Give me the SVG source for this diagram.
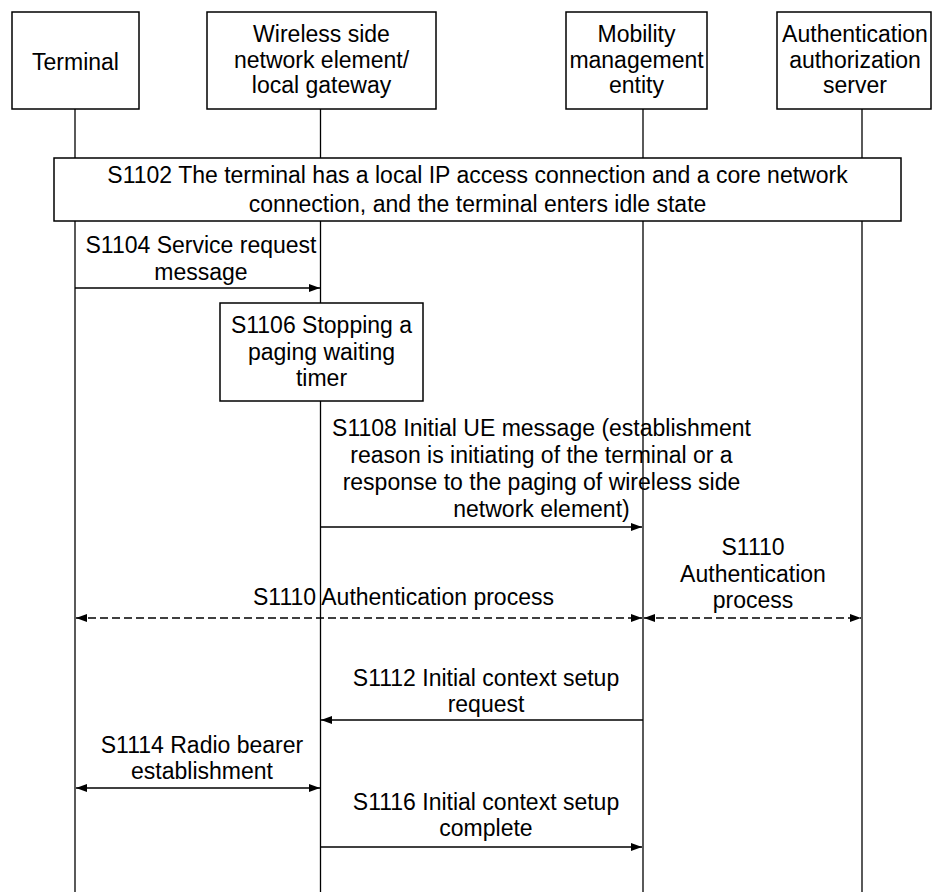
<svg xmlns="http://www.w3.org/2000/svg" width="932" height="892" viewBox="0 0 932 892">
<style>
.box{fill:#fff;stroke:#000;stroke-width:1.5}
.life{stroke:#000;stroke-width:1.3;fill:none}
.msg{stroke:#000;stroke-width:1.3;fill:none}
.dash{stroke-dasharray:8 4}
text{font-family:"Liberation Sans",Arial,sans-serif;font-size:23px;fill:#000;text-anchor:middle}
</style>
<defs>
<marker id="ah" viewBox="0 0 11 8" refX="11" refY="4" markerWidth="11" markerHeight="8" markerUnits="userSpaceOnUse" orient="auto-start-reverse">
<path d="M0,0 L11,4 L0,8 Z" fill="#000"/>
</marker>
</defs>
<g id="lifelines">
<line class="life" x1="75" y1="109" x2="75" y2="892"/>
<line class="life" x1="320.5" y1="109" x2="320.5" y2="892"/>
<line class="life" x1="643" y1="109" x2="643" y2="892"/>
<line class="life" x1="862" y1="109" x2="862" y2="892"/>
</g>
<g id="terminal">
<rect class="box" x="12" y="12" width="127" height="97"/>
<text x="75.5" y="70">Terminal</text>
</g>
<g id="wireless">
<rect class="box" x="207" y="12" width="229" height="97"/>
<text x="321.5" y="42">Wireless side</text>
<text x="321.5" y="67.5">network element/</text>
<text x="321.5" y="93">local gateway</text>
</g>
<g id="mme">
<rect class="box" x="566" y="12" width="141" height="97"/>
<text x="636.5" y="42">Mobility</text>
<text x="636.5" y="67.5">management</text>
<text x="636.5" y="93">entity</text>
</g>
<g id="aaa">
<rect class="box" x="777" y="12" width="154" height="97"/>
<text x="855" y="42">Authentication</text>
<text x="855" y="67.5">authorization</text>
<text x="855" y="93">server</text>
</g>
<g id="s1102">
<rect class="box" x="54" y="158" width="847" height="63"/>
<text x="477.5" y="183">S1102 The terminal has a local IP access connection and a core network</text>
<text x="477.5" y="212">connection, and the terminal enters idle state</text>
</g>
<g id="s1106">
<rect class="box" x="220" y="303" width="203" height="98"/>
<text x="321.5" y="333">S1106 Stopping a</text>
<text x="321.5" y="360">paging waiting</text>
<text x="321.5" y="386">timer</text>
</g>
<g id="connectors">
<line class="msg" x1="75" y1="288" x2="320" y2="288" marker-end="url(#ah)"/>
<line class="msg" x1="321" y1="527" x2="642" y2="527" marker-end="url(#ah)"/>
<line class="msg dash" x1="76" y1="618" x2="642" y2="618" marker-start="url(#ah)" marker-end="url(#ah)"/>
<line class="msg dash" x1="644" y1="618" x2="861" y2="618" marker-start="url(#ah)" marker-end="url(#ah)"/>
<line class="msg" x1="643" y1="720" x2="321" y2="720" marker-end="url(#ah)"/>
<line class="msg" x1="76" y1="788" x2="320" y2="788" marker-start="url(#ah)" marker-end="url(#ah)"/>
<line class="msg" x1="321" y1="847" x2="642" y2="847" marker-end="url(#ah)"/>
</g>
<g id="labels">
<text x="201" y="253">S1104 Service request</text>
<text x="201" y="280">message</text>
<text x="541.5" y="436">S1108 Initial UE message (establishment</text>
<text x="541.5" y="463">reason is initiating of the terminal or a</text>
<text x="541.5" y="490">response to the paging of wireless side</text>
<text x="541.5" y="517">network element)</text>
<text x="403.5" y="605">S1110 Authentication process</text>
<text x="753" y="555">S1110</text>
<text x="753" y="582">Authentication</text>
<text x="753" y="608">process</text>
<text x="486" y="686">S1112 Initial context setup</text>
<text x="486" y="712">request</text>
<text x="202" y="753">S1114 Radio bearer</text>
<text x="202" y="779">establishment</text>
<text x="486" y="810">S1116 Initial context setup</text>
<text x="486" y="836">complete</text>
</g>
</svg>
